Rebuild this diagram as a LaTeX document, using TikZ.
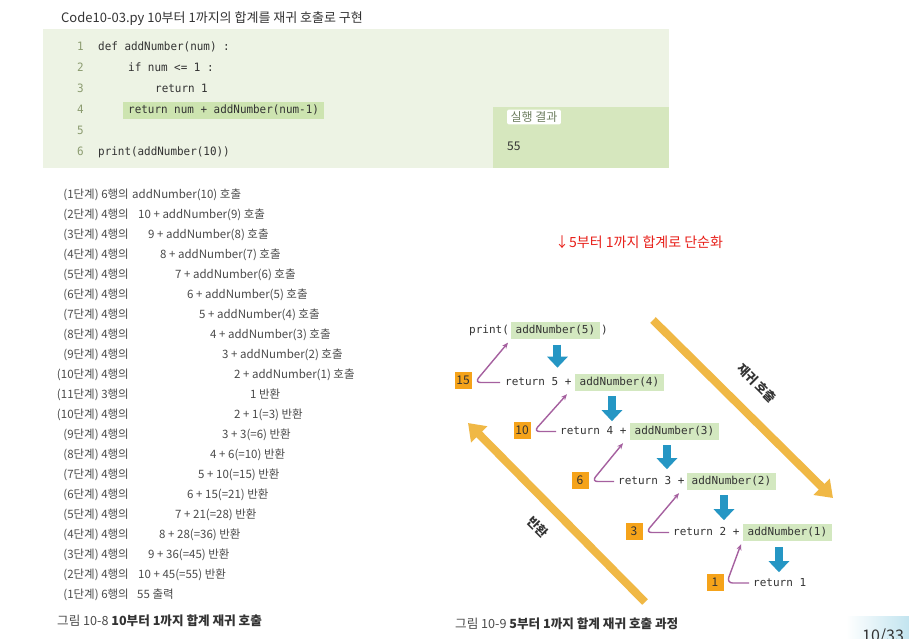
\documentclass[tikz,border=0pt]{standalone}
\usepackage{fontspec}
\setmainfont{Noto Sans CJK KR}
\newfontfamily\codefont[FakeStretch=0.95]{DejaVu Sans Mono}
\newfontfamily\dgfont{DejaVu Sans Mono}
\usetikzlibrary{arrows.meta}
\definecolor{codebg}{HTML}{EDF3E4}
\definecolor{resbg}{HTML}{D6E7BE}
\definecolor{hlc}{HTML}{CDE4B0}
\definecolor{dghlc}{HTML}{D3E8C0}
\definecolor{lnc}{HTML}{8C9C70}
\definecolor{labc}{HTML}{6E7E60}
\definecolor{tgray}{HTML}{4A4A4A}
\definecolor{dark}{HTML}{333333}
\definecolor{orng}{HTML}{F5A31A}
\definecolor{purp}{HTML}{A5609F}
\definecolor{blu}{HTML}{2596C4}
\definecolor{gold}{HTML}{F0B845}
\definecolor{redc}{HTML}{E8201A}
\definecolor{pgc}{HTML}{C2E4EF}
\begin{document}
\begin{tikzpicture}[x=1pt,y=-1pt,
  txt/.style={inner sep=0pt, anchor=base west, text=tgray, font=\fontsize{11.5}{13}\selectfont},
  lab/.style={txt, anchor=base east},
  codetxt/.style={font=\codefont\fontsize{11.5}{13}\selectfont, text=dark, inner xsep=0pt, inner ysep=3pt, text height=8.5pt, text depth=2.5pt, anchor=west},
  lnum/.style={codetxt, text=lnc},
  dgtxt/.style={font=\dgfont\fontsize{11}{13}\selectfont, text=dark, inner xsep=0pt, inner ysep=3pt, text height=8.5pt, text depth=2.5pt, anchor=west},
  dghl/.style={dgtxt, fill=dghlc, inner xsep=4.5pt},
  numbox/.style={fill=orng, minimum width=17pt, minimum height=17pt, inner sep=0pt, text=dark, font=\fontsize{12}{13}\selectfont},
  purpar/.style={draw=purp, line width=1.4pt, rounded corners=6pt, -{Stealth[length=6pt,width=5pt]}},
  bluear/.style={draw=blu, line width=8pt, -{Triangle[width=20pt,length=11pt]}},
  goldar/.style={draw=gold, line width=8pt, -{Triangle[width=22pt,length=16pt]}},
  glab/.style={font=\bfseries\fontsize{12.5}{14}\selectfont, text=dark, rotate=-45, inner sep=0pt}
]
\useasboundingbox (0,0) rectangle (909,638);
\clip (0,0) rectangle (909,638);
\fill[white] (0,0) rectangle (909,638);

% ---------- title & code ----------
\node[txt, text=dark, font=\fontsize{13}{15}\selectfont] (title) at (61,22) {Code10-03.py 10부터 1까지의 합계를 재귀 호출로 구현};
\fill[codebg] (43,29) rectangle (669,168);
\fill[resbg] (493,107) rectangle (669,168);
\node[fill=white, rounded corners=2pt, text=labc, inner xsep=3.5pt, inner ysep=2pt, font=\fontsize{12}{13}\selectfont] (reslab) at (534,117) {실행 결과};
\node[txt, text=dark, font=\fontsize{12}{13}\selectfont] (res) at (507,150) {55};

\node[lnum] (n1) at (77,47) {1};
\node[lnum] (n2) at (77,68) {2};
\node[lnum] (n3) at (77,89) {3};
\node[lnum] (n4) at (77,110) {4};
\node[lnum] (n5) at (77,131) {5};
\node[lnum] (n6) at (77,152) {6};
\node[codetxt] (c1) at (98,47) {def addNumber(num) :};
\node[codetxt] (c2) at (128,68) {if num <= 1 :};
\node[codetxt] (c3) at (155,89) {return 1};
\node[codetxt, fill=hlc, inner xsep=5pt] (c4) at (123,110) {return num + addNumber(num-1)};
\node[codetxt] (c6) at (98,152) {print(addNumber(10))};

% ---------- left list ----------
\foreach \i/\lb/\xx/\ex in {
 1/{(1단계) 6행의}/132/{addNumber(10) 호출},
 2/{(2단계) 4행의}/138/{10 + addNumber(9) 호출},
 3/{(3단계) 4행의}/148/{9 + addNumber(8) 호출},
 4/{(4단계) 4행의}/160/{8 + addNumber(7) 호출},
 5/{(5단계) 4행의}/175/{7 + addNumber(6) 호출},
 6/{(6단계) 4행의}/187/{6 + addNumber(5) 호출},
 7/{(7단계) 4행의}/199/{5 + addNumber(4) 호출},
 8/{(8단계) 4행의}/210/{4 + addNumber(3) 호출},
 9/{(9단계) 4행의}/222/{3 + addNumber(2) 호출},
 10/{(10단계) 4행의}/234/{2 + addNumber(1) 호출},
 11/{(11단계) 3행의}/250/{1 반환},
 12/{(10단계) 4행의}/234/{2 + 1(=3) 반환},
 13/{(9단계) 4행의}/222/{3 + 3(=6) 반환},
 14/{(8단계) 4행의}/210/{4 + 6(=10) 반환},
 15/{(7단계) 4행의}/198/{5 + 10(=15) 반환},
 16/{(6단계) 4행의}/187/{6 + 15(=21) 반환},
 17/{(5단계) 4행의}/175/{7 + 21(=28) 반환},
 18/{(4단계) 4행의}/159/{8 + 28(=36) 반환},
 19/{(3단계) 4행의}/148/{9 + 36(=45) 반환},
 20/{(2단계) 4행의}/138/{10 + 45(=55) 반환},
 21/{(1단계) 6행의}/137/{55 출력}}
{
  \node[lab] (l\i) at (129,{178+20*\i}) {\lb};
  \node[txt] (e\i) at (\xx,{178+20*\i}) {\ex};
}
\node[txt, text=tgray, font=\fontsize{12.6}{14}\selectfont] (cap1) at (57,625) {그림 10-8 {\color{dark}\bfseries 10부터 1까지 합계 재귀 호출}};

% ---------- right diagram ----------
\node[txt, text=redc, font=\fontsize{14}{15}\selectfont] (simp) at (555,247) {↓5부터 1까지 합계로 단순화};

\node[dgtxt] (p0) at (469,330) {print(};
\node[dghl] (a5) at (511,330) {addNumber(5)};
\node[dgtxt] (pc) at ([xshift=1pt]a5.east) {)};

\node[dgtxt] (r1) at (505,382.5) {return 5 +};
\node[dghl] (a4) at (575,382.5) {addNumber(4)};
\node[dgtxt] (r2) at (560,431.5) {return 4 +};
\node[dghl] (a3) at (630,431.5) {addNumber(3)};
\node[dgtxt] (r3) at (618,481.5) {return 3 +};
\node[dghl] (a2) at (687,481.5) {addNumber(2)};
\node[dgtxt] (r4) at (673,532.5) {return 2 +};
\node[dghl] (a1) at (743,532.5) {addNumber(1)};
\node[dgtxt] (r5) at (753,583) {return 1};

\node[numbox] (b15) at (463,380) {15};
\node[numbox] (b10) at (522,430) {10};
\node[numbox] (b6) at (580,480) {6};
\node[numbox] (b3) at (634,531) {3};
\node[numbox] (b1) at (715,582) {1};

% purple return arrows
\path (b15.east |- r1.west) ++(3,0) coordinate (v1);
\path (b10.east |- r2.west) ++(3,0) coordinate (v2);
\path (b6.east |- r3.west) ++(3,0) coordinate (v3);
\path (b3.east |- r4.west) ++(3,0) coordinate (v4);
\path (b1.east |- r5.west) ++(3,0) coordinate (v5);
\draw[purpar] ([xshift=-5pt]r1.west) -- (v1) -- ([xshift=-3pt,yshift=-4pt]a5.south west);
\draw[purpar] ([xshift=-4pt]r2.west) -- (v2) -- ([xshift=-8pt,yshift=-3pt]a4.south west);
\draw[purpar] ([xshift=-4pt]r3.west) -- (v3) -- ([xshift=-7pt,yshift=-3pt]a3.south west);
\draw[purpar] ([xshift=-4pt]r4.west) -- (v4) -- ([xshift=-8pt,yshift=-3pt]a2.south west);
\draw[purpar] ([xshift=-4pt]r5.west) -- (v5) -- ([xshift=-2pt,yshift=-3pt]a1.south west);

% blue call arrows
\draw[bluear] ([xshift=2pt,yshift=-6pt]a5.south) -- ++(0,23);
\draw[bluear] ([xshift=-7.5pt,yshift=-5pt]a4.south) -- ++(0,25);
\draw[bluear] ([xshift=-7.5pt,yshift=-5pt]a3.south) -- ++(0,24);
\draw[bluear] ([xshift=-7.5pt,yshift=-5pt]a2.south) -- ++(0,25);
\draw[bluear] ([xshift=-8.5pt,yshift=-6pt]a1.south) -- ++(0,25);

% gold arrows
\coordinate (g1s) at (653,320);
\coordinate (g1e) at (833,498);
\coordinate (g2s) at (645,602);
\coordinate (g2e) at (468,423);
\draw[goldar] (g1s) -- (g1e);
\draw[goldar] (g2s) -- (g2e);
\node[glab] (lcall) at (757,383) {재귀 호출};
\node[glab] (lret) at (538,527) {반환};

\node[txt, text=tgray, font=\fontsize{12.6}{14}\selectfont] (cap2) at (455,628) {그림 10-9 {\color{dark}\bfseries 5부터 1까지 합계 재귀 호출 과정}};

% page number
\shade[left color=white, right color=pgc] (846,616) rectangle (909,638);
\node[txt, text=dark, font=\fontsize{16}{18}\selectfont] (pg) at (862,641) {10/33};
\end{tikzpicture}
\end{document}
